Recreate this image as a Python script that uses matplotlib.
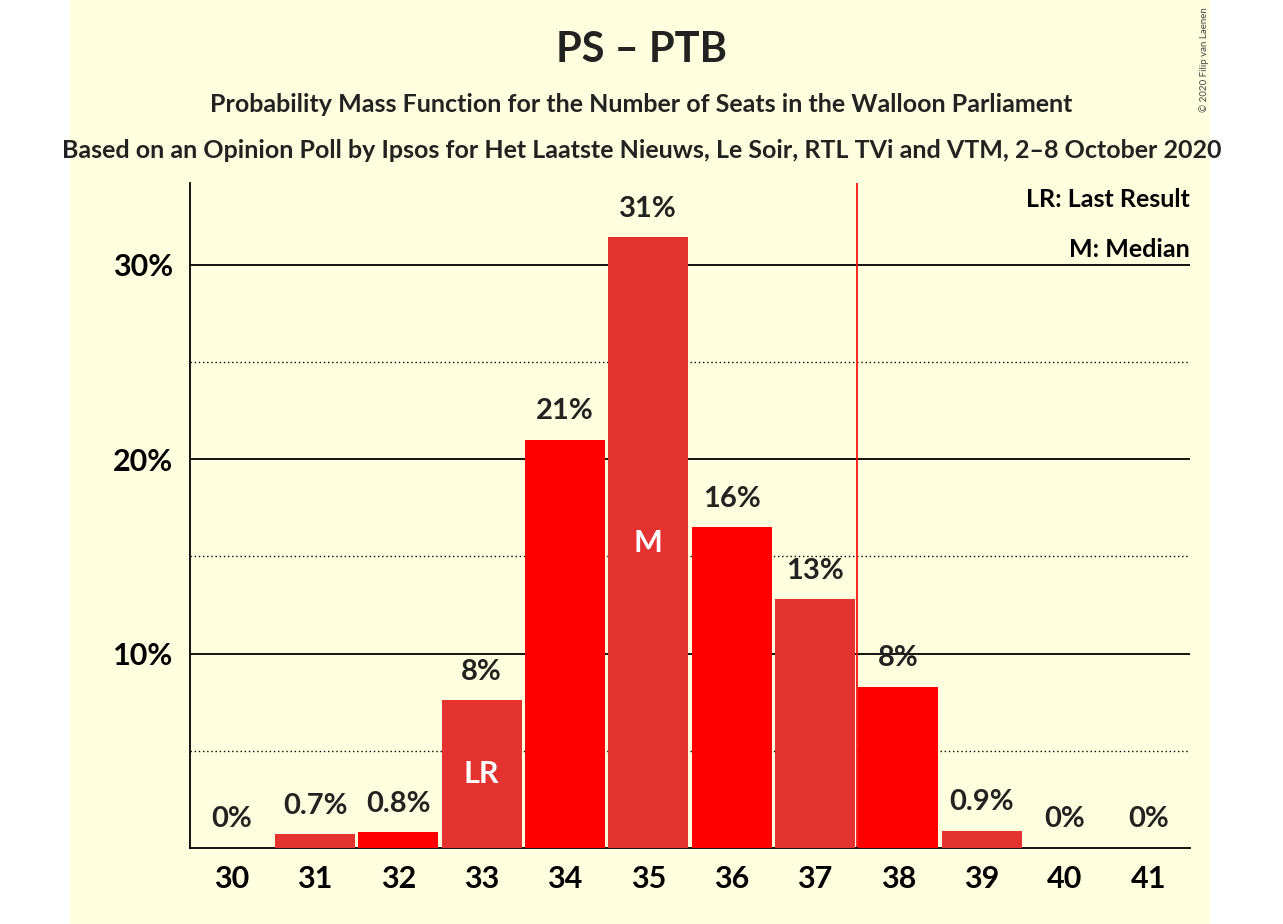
import matplotlib.pyplot as plt
from matplotlib.patches import Rectangle

seats = [30, 31, 32, 33, 34, 35, 36, 37, 38, 39, 40, 41]
probs = [0, 0.7, 0.8, 7.6, 21.0, 31.4, 16.5, 12.8, 8.3, 0.9, 0, 0]
labels = ["0%", "0.7%", "0.8%", "8%", "21%", "31%", "16%", "13%", "8%", "0.9%", "0%", "0%"]
last_result = 33
median = 35
majority = 37.5

plt.rcParams["font.family"] = ["Lato", "DejaVu Sans"]
plt.rcParams["font.weight"] = "bold"

fig = plt.figure(figsize=(12.83, 9.24), dpi=100)
fig.patches.append(Rectangle((70 / 1283, 0), 1140 / 1283, 1, transform=fig.transFigure,
                             facecolor="#FFFFE0", zorder=-10))
ax = fig.add_axes([190 / 1283, 76 / 924, 1000 / 1283, 665 / 924])
ax.set_facecolor("none")

colors = ["#E3322F" if s % 2 else "#FF0000" for s in seats]
ax.bar(seats, probs, width=0.96, color=colors, zorder=3)
for s, p, l in zip(seats, probs, labels):
    ax.text(s, p + 0.8, l, ha="center", va="bottom", fontsize=21, fontweight="bold", color="#222222")
for s, t in [(last_result, "LR"), (median, "M")]:
    p = probs[seats.index(s)]
    ax.text(s, p / 2, t, ha="center", va="center", fontsize=22, fontweight="bold", color="white", zorder=4)

ax.axvline(majority, color="#FF0000", lw=1.2, zorder=2)
for y in [10, 20, 30]:
    ax.axhline(y, color="black", lw=1.3, zorder=1)
for y in [5, 15, 25]:
    ax.axhline(y, color="black", lw=1, ls=(0, (1, 2)), zorder=1)

ax.set_xlim(29.5, 41.5)
ax.set_ylim(0, 34.2)
ax.set_xticks(seats)
ax.set_xticklabels([str(s) for s in seats], fontsize=22, fontweight="bold")
ax.set_yticks([10, 20, 30])
ax.set_yticklabels(["10%", "20%", "30%"], fontsize=22, fontweight="bold")
ax.tick_params(length=0, pad=12)
for sp in ["top", "right"]:
    ax.spines[sp].set_visible(False)
ax.spines["left"].set_linewidth(1.3)
ax.spines["bottom"].set_linewidth(1.3)

ax.text(1.0, 0.975, "LR: Last Result", transform=ax.transAxes, ha="right", va="center", fontsize=18)
ax.text(1.0, 0.9, "M: Median", transform=ax.transAxes, ha="right", va="center", fontsize=18)

fig.text(0.5, 1 - 50 / 924, "PS – PTB", ha="center", va="center", fontsize=30, fontweight="bold", color="#222222")
fig.text(0.5, 1 - 104 / 924, "Probability Mass Function for the Number of Seats in the Walloon Parliament",
         ha="center", va="center", fontsize=18, fontweight="bold", color="#222222")
fig.text(0.5, 1 - 151 / 924, "Based on an Opinion Poll by Ipsos for Het Laatste Nieuws, Le Soir, RTL TVi and VTM, 2–8 October 2020",
         ha="center", va="center", fontsize=18, fontweight="bold", color="#222222")
fig.text(1204 / 1283, 1 - 60 / 924, "© 2020 Filip van Laenen", rotation=90, ha="center", va="center",
         fontsize=7, fontweight="normal", color="#444444")

fig.savefig("out.png", dpi=100)
